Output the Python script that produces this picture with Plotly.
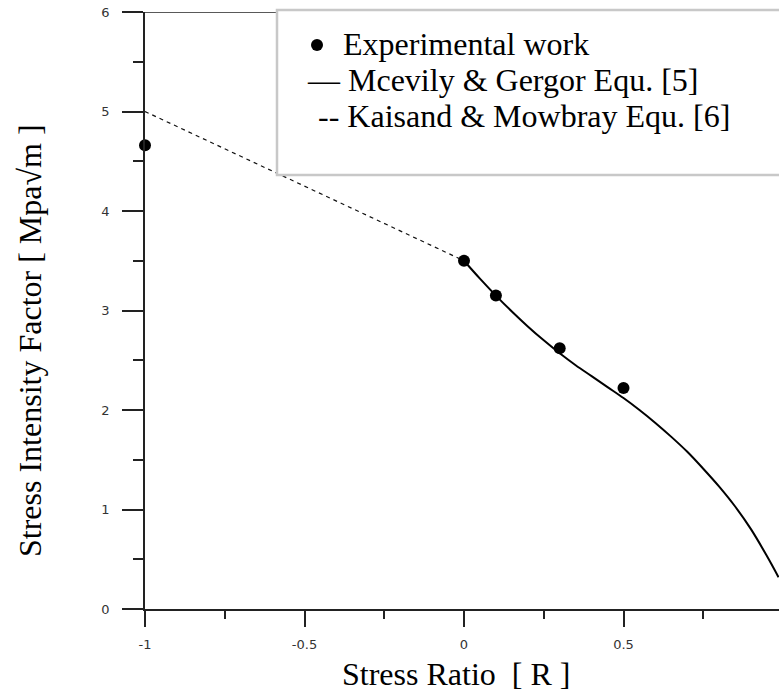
import plotly.graph_objects as go

# ---- data ----
R_exp = [-1.0, 0.0, 0.1, 0.3, 0.5]
K_exp = [4.66, 3.50, 3.15, 2.62, 2.22]

R_mcevily = [0.0, 0.05, 0.10, 0.15, 0.20, 0.25, 0.30, 0.35, 0.40, 0.45, 0.50,
             0.55, 0.60, 0.65, 0.70, 0.75, 0.80, 0.85, 0.90, 0.95, 0.986]
K_mcevily = [3.50, 3.32, 3.15, 2.99, 2.84, 2.70, 2.57, 2.45, 2.34, 2.23, 2.12,
             2.00, 1.87, 1.73, 1.58, 1.41, 1.23, 1.03, 0.80, 0.53, 0.32]

R_kaisand = [-1.0, 0.0]
K_kaisand = [5.0, 3.5]

x_tickvals = [-1, -0.5, 0, 0.5]
x_ticktext = ["-1", "-0.5", "0", "0.5"]
x_minor = [-0.75, -0.25, 0.25, 0.75]
y_tickvals = [0, 1, 2, 3, 4, 5, 6]
y_ticktext = ["0", "1", "2", "3", "4", "5", "6"]
y_minor = [0.5, 1.5, 2.5, 3.5, 4.5, 5.5]

legend_labels = ["Experimental work", "\u2014 Mcevily & Gergor Equ. [5]", "-- Kaisand & Mowbray Equ. [6]"]
x_title = "Stress Ratio \u00a0[ R ]"
y_title = "Stress Intensity Factor [ Mpa\u221am ]"

# ---- layout geometry (page pixels; body margin removed) ----
W, H = 779, 696
L = 145
T = 12
B = 696 - 609
PW = W - L
PH = H - T - B


def px_x(p):
    return (p - L) / PW


def px_y(p):
    return (H - B - p) / PH


SERIF = "Liberation Serif"
SANS = "DejaVu Sans"

fig = go.Figure()
fig.add_trace(go.Scatter(x=R_kaisand, y=K_kaisand, mode="lines",
                         line=dict(color="#111", width=1.2, dash="4px,4px"),
                         showlegend=False))
fig.add_trace(go.Scatter(x=R_mcevily, y=K_mcevily, mode="lines",
                         line=dict(color="#000", width=2, shape="spline", smoothing=1.0),
                         showlegend=False))
fig.add_trace(go.Scatter(x=R_exp, y=K_exp, mode="markers",
                         marker=dict(color="#000", size=12),
                         cliponaxis=False, showlegend=False))

axis_common = dict(showline=True, linecolor="#222", linewidth=1.5,
                   ticks="outside", tickcolor="#222", tickwidth=1.5,
                   showgrid=False, zeroline=False, ticklabeloverflow="allow",
                   automargin=False,
                   tickfont=dict(family=SANS, size=13, color="#333"))

fig.update_xaxes(range=[-1, -1 + PW / 319.0], tickmode="array",
                 tickvals=x_tickvals, ticktext=x_ticktext, ticklen=16,
                 ticklabelstandoff=7,
                 minor=dict(tickvals=x_minor, ticks="outside", ticklen=8,
                            tickcolor="#222", tickwidth=1.5, showgrid=False),
                 **axis_common)
fig.update_yaxes(range=[0, 6], tickmode="array",
                 tickvals=y_tickvals, ticktext=y_ticktext, ticklen=21,
                 ticklabelstandoff=10,
                 minor=dict(tickvals=y_minor, ticks="outside", ticklen=10,
                            tickcolor="#222", tickwidth=1.5, showgrid=False),
                 **axis_common)

shapes = [
    # top frame line at y = 6
    dict(type="line", xref="x", yref="y", x0=-1, x1=1.2, y0=6, y1=6,
         line=dict(color="#222", width=1.5)),
    # legend box
    dict(type="rect", xref="paper", yref="paper",
         x0=px_x(277), x1=px_x(790), y0=px_y(175), y1=px_y(10),
         line=dict(color="#c8c8c8", width=2.5), fillcolor="white"),
    # legend bullet
    dict(type="circle", xref="paper", yref="paper",
         x0=px_x(311), x1=px_x(323), y0=px_y(51), y1=px_y(39),
         line=dict(color="#000", width=0), fillcolor="#000"),
]

annotations = [
    dict(text=legend_labels[0], x=px_x(341), y=px_y(44)),
    dict(text=legend_labels[1], x=px_x(305), y=px_y(80)),
    dict(text=legend_labels[2], x=px_x(316), y=px_y(116)),
]
for a in annotations:
    a.update(xref="paper", yref="paper", xanchor="left", yanchor="middle",
             showarrow=False, font=dict(family=SERIF, size=32, color="#000"))

annotations.append(dict(text=x_title, xref="paper", yref="paper",
                        x=px_x(456), y=px_y(674), xanchor="center", yanchor="middle",
                        showarrow=False, font=dict(family=SERIF, size=32, color="#000")))
annotations.append(dict(text=y_title, xref="paper", yref="paper",
                        x=px_x(30), y=px_y(341), xanchor="center", yanchor="middle",
                        textangle=-90, showarrow=False,
                        font=dict(family=SERIF, size=32, color="#000")))

fig.update_layout(width=W, height=H,
                  margin=dict(l=L, r=0, t=T, b=B, pad=0),
                  paper_bgcolor="white", plot_bgcolor="white",
                  shapes=shapes, annotations=annotations, showlegend=False)

fig.write_html("out.html",
               config={"displayModeBar": False},
               post_script="document.body.style.margin='0';"
                           "document.documentElement.style.overflow='hidden';")
